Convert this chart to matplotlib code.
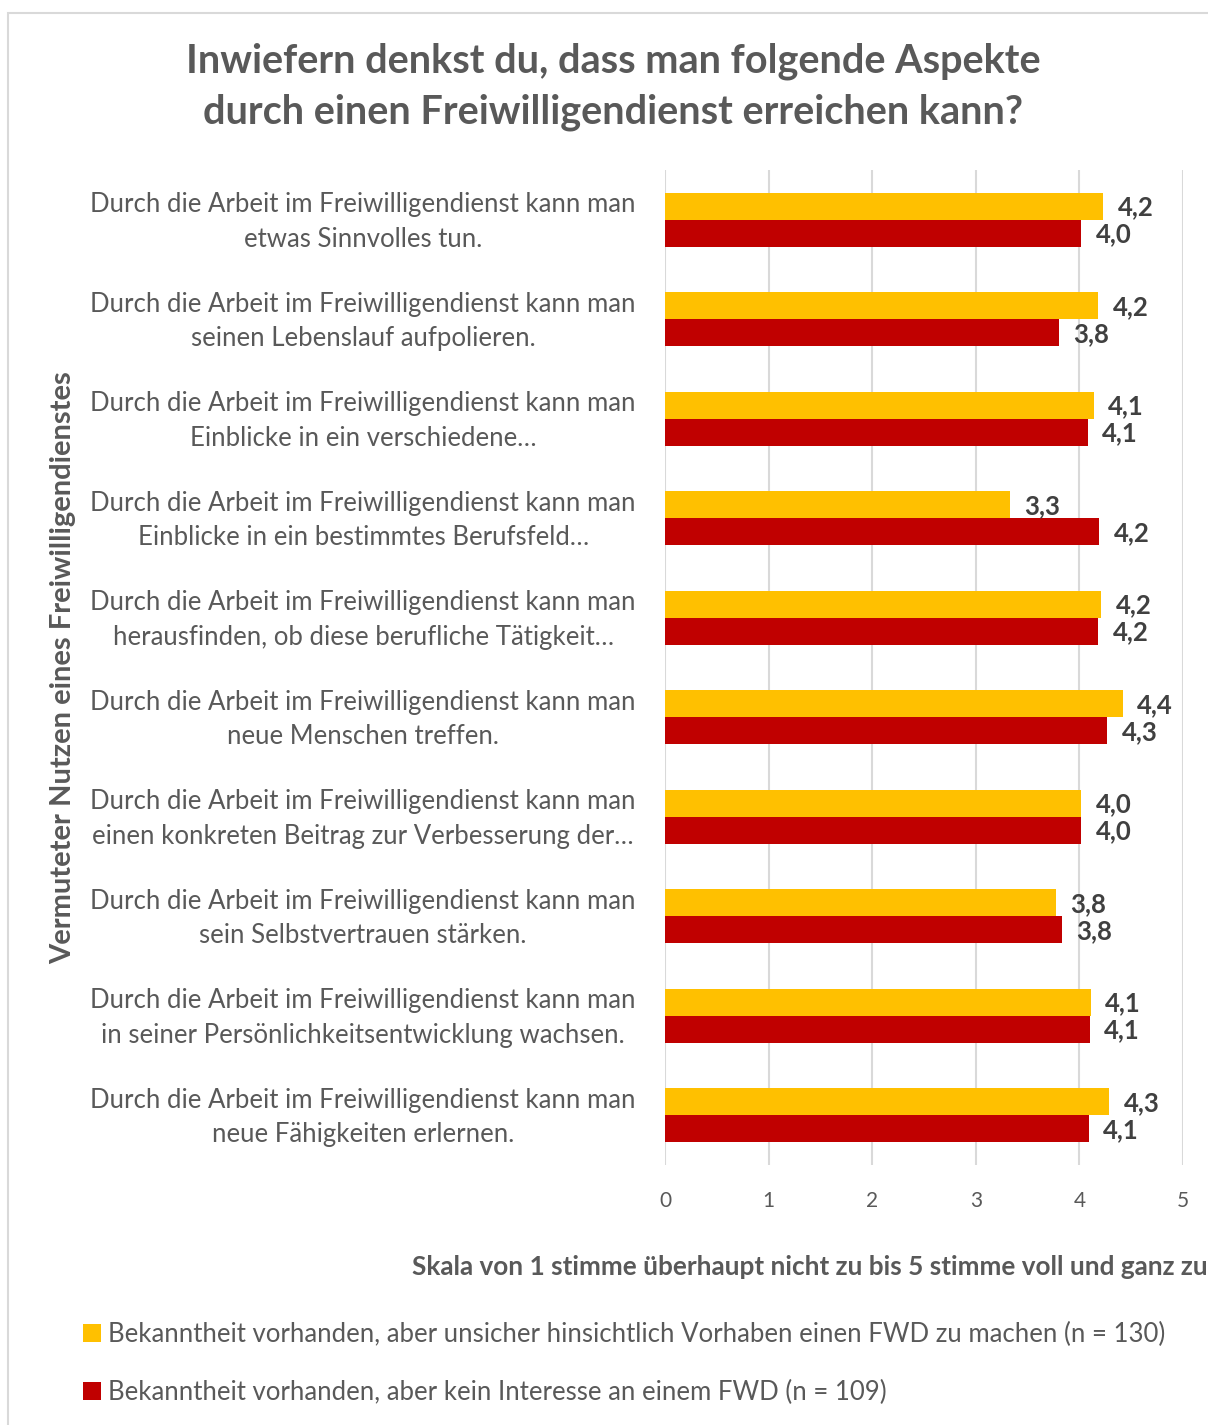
import numpy as np
import matplotlib
matplotlib.use("Agg")
import matplotlib.pyplot as plt
from matplotlib.patches import Rectangle
from matplotlib.transforms import ScaledTranslation

plt.rcParams['font.family'] = ['Lato', 'DejaVu Sans']

# Daten
aussagen = [
    "etwas Sinnvolles tun.",
    "seinen Lebenslauf aufpolieren.",
    "Einblicke in ein verschiedene…",
    "Einblicke in ein bestimmtes Berufsfeld…",
    "herausfinden, ob diese berufliche Tätigkeit…",
    "neue Menschen treffen.",
    "einen konkreten Beitrag zur Verbesserung der…",
    "sein Selbstvertrauen stärken.",
    "in seiner Persönlichkeitsentwicklung wachsen.",
    "neue Fähigkeiten erlernen.",
]
unsicher = [4.23, 4.18, 4.14, 3.33, 4.21, 4.42, 4.02, 3.77, 4.11, 4.29]
kein_interesse = [4.02, 3.80, 4.08, 4.19, 4.18, 4.27, 4.02, 3.83, 4.10, 4.09]
serien = [
    "Bekanntheit vorhanden, aber unsicher hinsichtlich Vorhaben einen FWD zu machen (n = 130)",
    "Bekanntheit vorhanden, aber kein Interesse an einem FWD (n = 109)",
]
x_ticks = [0, 1, 2, 3, 4, 5]

gelb = "#FFC000"
rot = "#C00000"
grau = "#595959"

fig = plt.figure(figsize=(12.08, 14.25), dpi=100)
# Rahmen wie im Original (rechts/unten abgeschnitten)
fig.patches.append(Rectangle((8 / 1208, -0.01), 1.2, 1 - 13 / 1425 + 0.01,
                             transform=fig.transFigure, fill=False,
                             edgecolor="#d9d9d9", linewidth=1.5))

ax = fig.add_axes([665 / 1208, 1 - 1165 / 1425, 518 / 1208, 995 / 1425])

y = np.arange(len(aussagen))
h = 0.27
ax.barh(y - h / 2, unsicher, height=h, color=gelb, label=serien[0], zorder=3)
ax.barh(y + h / 2, kein_interesse, height=h, color=rot, label=serien[1], zorder=3)

for yi, v in zip(y, unsicher):
    ax.text(v + 0.14, yi - h / 2 + 0.01, f"{v:.1f}".replace(".", ","),
            va="center", ha="left", fontsize=18.5, fontweight="bold", color="#404040")
for yi, v in zip(y, kein_interesse):
    ax.text(v + 0.14, yi + h / 2 + 0.01, f"{v:.1f}".replace(".", ","),
            va="center", ha="left", fontsize=18.5, fontweight="bold", color="#404040")

ax.set_xlim(0, 5)
ax.set_ylim(len(aussagen) - 0.5, -0.5)
ax.set_xticks(x_ticks)
ax.set_xticklabels([str(t) for t in x_ticks], fontsize=15, color=grau)
ax.set_yticks(y)
ax.set_yticklabels(["Durch die Arbeit im Freiwilligendienst kann man\n" + a for a in aussagen],
                   fontsize=18.5, color=grau, multialignment="center", linespacing=1.47)
ax.tick_params(axis="y", length=0, pad=21)
ax.tick_params(axis="x", length=0, pad=19)
# Beschriftungen etwas nach oben schieben
for lab in ax.get_yticklabels():
    lab.set_transform(lab.get_transform() + ScaledTranslation(0, 0.05, fig.dpi_scale_trans))
ax.grid(axis="x", color="#d9d9d9", linewidth=1.5, zorder=0)
for s in ["top", "right", "bottom", "left"]:
    ax.spines[s].set_visible(False)

fig.text(613 / 1208, 1 - 87 / 1425,
         "Inwiefern denkst du, dass man folgende Aspekte\ndurch einen Freiwilligendienst erreichen kann?",
         ha="center", va="center", fontsize=28.5, fontweight="bold", color=grau, linespacing=1.45)
fig.text(63 / 1208, 1 - 668 / 1425, "Vermuteter Nutzen eines Freiwilligendienstes",
         rotation=90, ha="center", va="center", fontsize=21, fontweight="bold", color=grau)
fig.text(1208 / 1208, 1 - 1267 / 1425,
         "Skala von 1 stimme überhaupt nicht zu bis 5 stimme voll und ganz zu",
         ha="right", va="center", fontsize=18.8, fontweight="bold", color=grau)

fig.legend(loc="upper left", bbox_to_anchor=(60 / 1208, 1 - 1299 / 1425), frameon=False,
           fontsize=18.5, labelcolor=grau, handlelength=0.7, handleheight=0.7,
           handletextpad=0.25, labelspacing=1.26)

fig.savefig("out.png", dpi=100)
